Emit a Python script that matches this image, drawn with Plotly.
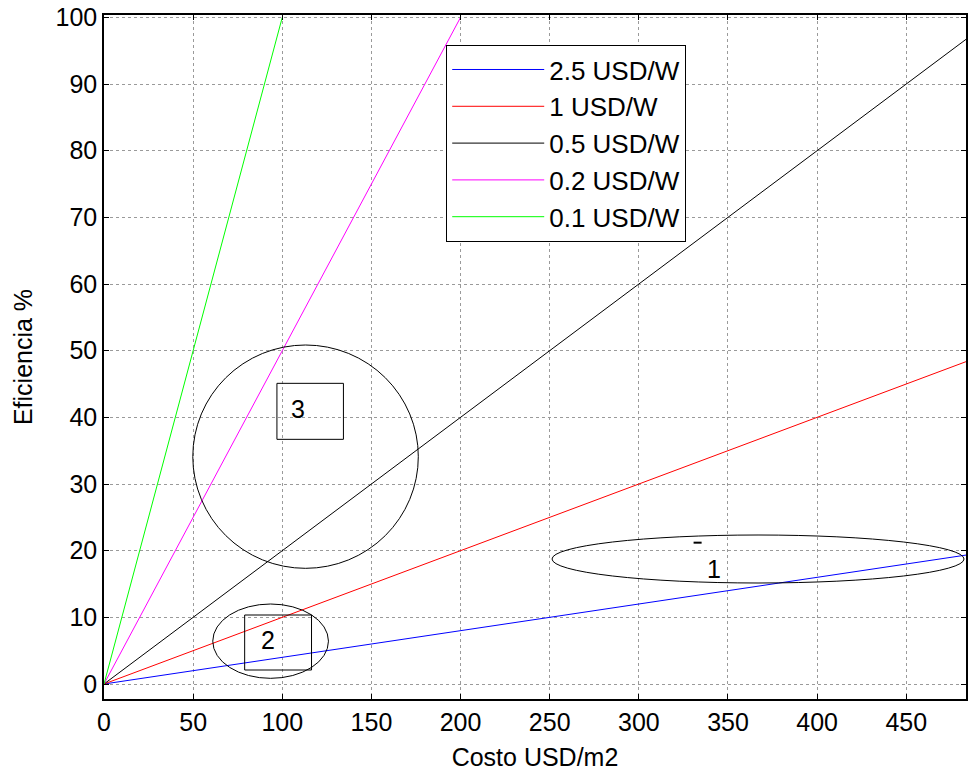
import plotly.graph_objects as go

# Panel price series (USD/W) and the end points of each efficiency-vs-cost line
series_names = ["2.5 USD/W", "1 USD/W", "0.5 USD/W", "0.2 USD/W", "0.1 USD/W"]
series_colors = ["#0000FF", "#FF0000", "#000000", "#FF00FF", "#00FF00"]
cost_usd_m2 = [
    [0, 483.5],
    [0, 483.5],
    [0, 483.5],
    [0, 200],
    [0, 100],
]
efficiency_pct = [
    [0, 19.34],
    [0, 48.35],
    [0, 96.7],
    [0, 100],
    [0, 100],
]

x_ticks = [0, 50, 100, 150, 200, 250, 300, 350, 400, 450]
y_ticks = [0, 10, 20, 30, 40, 50, 60, 70, 80, 90, 100]

FONT = "Liberation Sans, Arial, Helvetica, sans-serif"
FS = 25

fig = go.Figure()
for name, color, xs, ys in zip(series_names, series_colors, cost_usd_m2, efficiency_pct):
    fig.add_trace(go.Scatter(x=xs, y=ys, mode="lines", name=name,
                             line=dict(color=color, width=1)))

# Region markers: ellipses, boxes and their labels
shape_line = dict(color="black", width=1)
shapes = [
    dict(type="circle", xref="x", yref="y", x0=251.3, x1=482.4, y0=15.15, y1=22.35, line=shape_line),
    dict(type="line", xref="x", yref="y", x0=330.7, x1=335.2, y0=21.2, y1=21.2,
         line=dict(color="black", width=2)),
    dict(type="circle", xref="x", yref="y", x0=61, x1=125.9, y0=0.85, y1=12.0, line=shape_line),
    dict(type="rect", xref="x", yref="y", x0=78.9, x1=116.4, y0=2.1, y1=10.35, line=shape_line),
    dict(type="circle", xref="x", yref="y", x0=49.8, x1=176.3, y0=17.35, y1=50.85, line=shape_line),
    dict(type="rect", xref="x", yref="y", x0=97, x1=134.3, y0=36.7, y1=45.1, line=shape_line),
]
labels = [("1", 342, 17.25), ("2", 91.8, 6.6), ("3", 108.6, 41.25)]
annotations = [
    dict(text=t, x=x, y=y, xref="x", yref="y", showarrow=False,
         font=dict(family=FONT, size=FS, color="black"))
    for t, x, y in labels
]

axis_common = dict(
    showline=True, linecolor="black", linewidth=1.5, mirror="allticks",
    ticks="inside", ticklen=5, tickcolor="black",
    showgrid=True, gridcolor="#9a9a9a", griddash="dot", gridwidth=1,
    zeroline=False, tickfont=dict(family=FONT, size=FS, color="black"),
)

fig.update_layout(
    width=969, height=771,
    margin=dict(l=104, r=1, t=15, b=72),
    paper_bgcolor="white", plot_bgcolor="white",
    font=dict(family=FONT, size=FS, color="black"),
    shapes=shapes, annotations=annotations,
    xaxis=dict(range=[0, 483.5], tickvals=x_ticks,
               title=dict(text="Costo USD/m2", font=dict(family=FONT, size=FS), standoff=16),
               **axis_common),
    yaxis=dict(range=[-2.25, 100.35], tickvals=y_ticks,
               title=dict(text="Eficiencia %", font=dict(family=FONT, size=FS), standoff=16),
               **axis_common),
    legend=dict(x=0.397, y=0.956, xanchor="left", yanchor="top",
                bgcolor="white", bordercolor="black", borderwidth=1,
                itemwidth=92, tracegroupgap=0,
                font=dict(family=FONT, size=26, color="black")),
)

fig.write_html("out.html")
